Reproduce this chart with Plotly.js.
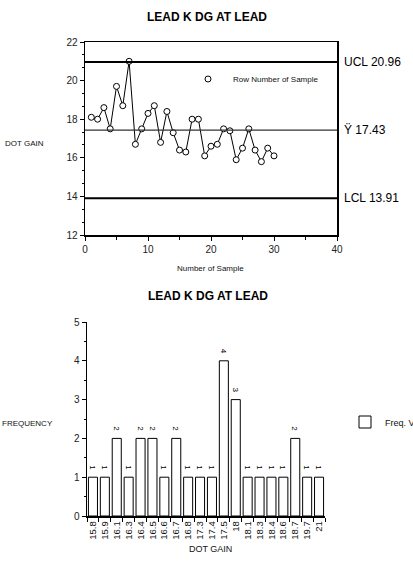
<!DOCTYPE html>
<html>
<head>
<meta charset="utf-8">
<script src="https://cdn.plot.ly/plotly-3.0.1.min.js"></script>
<style>html,body{margin:0;padding:0;background:#fff;overflow:hidden;}#chart{width:413px;height:568px;}</style>
</head>
<body>
<div id="chart"></div>
<script>
// Control chart data
const sampleNumbers = [1,2,3,4,5,6,7,8,9,10,11,12,13,14,15,16,17,18,19,20,21,22,23,24,25,26,27,28,29,30];
const dotGain = [18.1,18.0,18.6,17.5,19.7,18.7,21.0,16.7,17.5,18.3,18.7,16.8,18.4,17.3,16.4,16.3,18.0,18.0,16.1,16.6,16.7,17.5,17.4,15.9,16.5,17.5,16.4,15.8,16.5,16.1];
const ucl = 20.96;
const centerLine = 17.43;
const lcl = 13.91;

// Histogram data
const gainCategories = ["15.8","15.9","16.1","16.3","16.4","16.5","16.6","16.7","16.8","17.3","17.4","17.5","18","18.1","18.3","18.4","18.6","18.7","19.7","21"];
const frequencies = [1,1,2,1,2,2,1,2,1,1,1,4,3,1,1,1,1,2,1,1];

const W = 413, H = 568;
const px = v => v / W;
const py = v => 1 - v / H;

const traces = [
  {
    x: sampleNumbers, y: dotGain, xaxis: 'x', yaxis: 'y',
    type: 'scatter', mode: 'lines+markers',
    line: {color: '#000', width: 1},
    marker: {symbol: 'circle', size: 6, color: '#fff', line: {width: 1, color: '#000'}},
    showlegend: false, hoverinfo: 'skip', cliponaxis: false
  },
  {
    x: [null], y: [null], xaxis: 'x', yaxis: 'y',
    type: 'scatter', mode: 'markers', name: 'Row Number of Sample',
    marker: {symbol: 'circle', size: 6, color: '#fff', line: {width: 1, color: '#000'}},
    showlegend: true, legend: 'legend'
  },
  {
    x: gainCategories, y: frequencies, xaxis: 'x2', yaxis: 'y2',
    type: 'bar', name: 'Freq. Value', legend: 'legend2', showlegend: true,
    marker: {color: '#fff', line: {color: '#000', width: 1}},
    text: frequencies.map(v => String(v) + '\u00a0\u00a0'), textposition: 'outside', textangle: 90,
    textfont: {size: 8.5, color: '#000', family: 'Arial, Liberation Sans, sans-serif'},
    outsidetextfont: {size: 8.5, color: '#000', family: 'Arial, Liberation Sans, sans-serif'},
    cliponaxis: false, hoverinfo: 'skip'
  }
];

const tickFont = {size: 10, color: '#222', family: 'Arial, Liberation Sans, sans-serif'};

const layout = {
  width: W, height: H, autosize: false,
  margin: {l: 0, r: 0, t: 0, b: 0, pad: 0, autoexpand: false},
  paper_bgcolor: '#fff', plot_bgcolor: '#fff',
  font: {family: 'Arial, Liberation Sans, sans-serif', color: '#000'},
  bargap: 0.24,
  xaxis: {
    domain: [px(85), px(337)], anchor: 'y', range: [0, 40], dtick: 10, tick0: 0,
    ticks: 'outside', ticklen: 4, tickwidth: 1, tickcolor: '#000',
    minor: {dtick: 5, ticks: 'outside', ticklen: 3, tickcolor: '#000'},
    showline: true, linecolor: '#000', linewidth: 1.5, mirror: true,
    showgrid: false, zeroline: false, tickfont: tickFont, automargin: false, fixedrange: true
  },
  yaxis: {
    domain: [py(235), py(42)], anchor: 'x', range: [12, 22], dtick: 2, tick0: 12,
    ticks: 'outside', ticklen: 4, tickwidth: 1, tickcolor: '#000',
    minor: {dtick: 2/3, tick0: 12, ticks: 'outside', ticklen: 2, tickcolor: '#000'},
    showline: true, linecolor: '#000', linewidth: 1.5, mirror: true,
    showgrid: false, zeroline: false, tickfont: tickFont, automargin: false, fixedrange: true
  },
  xaxis2: {
    domain: [px(87), px(325)], anchor: 'y2', type: 'category', dtick: 1, tickmode: 'linear',
    tickangle: -90, ticks: 'outside', tickson: 'boundaries', ticklen: 4, tickcolor: '#000',
    showline: true, linecolor: '#000', linewidth: 1.5,
    showgrid: false, zeroline: false,
    tickfont: {size: 9.5, color: '#111', family: 'Arial, Liberation Sans, sans-serif'},
    automargin: false, fixedrange: true
  },
  yaxis2: {
    domain: [py(516), py(322)], anchor: 'x2', range: [0, 5], dtick: 1,
    ticks: 'outside', ticklen: 4, tickcolor: '#000',
    minor: {dtick: 0.5, ticks: 'outside', ticklen: 2, tickcolor: '#000'},
    showline: true, linecolor: '#000', linewidth: 1.5,
    showgrid: false, zeroline: false, tickfont: tickFont, automargin: false, fixedrange: true
  },
  legend: {
    x: px(183), y: py(79), xanchor: 'left', yanchor: 'middle', itemwidth: 40,
    bgcolor: 'rgba(0,0,0,0)', borderwidth: 0,
    font: {size: 8, color: '#111'}
  },
  legend2: {
    x: px(345), y: py(422), xanchor: 'left', yanchor: 'middle',
    bgcolor: 'rgba(0,0,0,0)', borderwidth: 0,
    font: {size: 9, color: '#111'}
  },
  shapes: [
    {type: 'line', xref: 'x', yref: 'y', x0: 0, x1: 40, y0: ucl, y1: ucl, line: {color: '#000', width: 2}},
    {type: 'line', xref: 'x', yref: 'y', x0: 0, x1: 40, y0: centerLine, y1: centerLine, line: {color: '#333', width: 1.2}},
    {type: 'line', xref: 'x', yref: 'y', x0: 0, x1: 40, y0: lcl, y1: lcl, line: {color: '#000', width: 2}}
  ],
  annotations: [
    {text: '<b>LEAD K DG AT LEAD</b>', xref: 'paper', yref: 'paper', x: px(207), y: py(17), xanchor: 'center', yanchor: 'middle', showarrow: false, font: {size: 12, color: '#000'}},
    {text: '<b>LEAD K DG AT LEAD</b>', xref: 'paper', yref: 'paper', x: px(208), y: py(296), xanchor: 'center', yanchor: 'middle', showarrow: false, font: {size: 12, color: '#000'}},
    {text: 'DOT GAIN', xref: 'paper', yref: 'paper', x: px(3), y: py(143), xanchor: 'left', yanchor: 'middle', showarrow: false, font: {size: 8, color: '#111'}},
    {text: 'Number of Sample', xref: 'paper', yref: 'paper', x: px(210), y: py(268), xanchor: 'center', yanchor: 'middle', showarrow: false, font: {size: 8, color: '#111'}},
    {text: 'FREQUENCY', xref: 'paper', yref: 'paper', x: px(0), y: py(423), xanchor: 'left', yanchor: 'middle', showarrow: false, font: {size: 8, color: '#111'}},
    {text: 'DOT GAIN', xref: 'paper', yref: 'paper', x: px(210), y: py(549), xanchor: 'center', yanchor: 'middle', showarrow: false, font: {size: 9, color: '#111'}},
    {text: 'UCL ' + ucl.toFixed(2), xref: 'paper', yref: 'y', x: px(342), y: ucl, xanchor: 'left', yanchor: 'middle', showarrow: false, font: {size: 12, color: '#000'}},
    {text: 'Ÿ ' + centerLine.toFixed(2), xref: 'paper', yref: 'y', x: px(342), y: centerLine, xanchor: 'left', yanchor: 'middle', showarrow: false, font: {size: 12, color: '#000'}},
    {text: 'LCL ' + lcl.toFixed(2), xref: 'paper', yref: 'y', x: px(342), y: lcl, xanchor: 'left', yanchor: 'middle', showarrow: false, font: {size: 12, color: '#000'}}
  ]
};

Plotly.newPlot('chart', traces, layout, {displayModeBar: false, staticPlot: true});
</script>
</body>
</html>
